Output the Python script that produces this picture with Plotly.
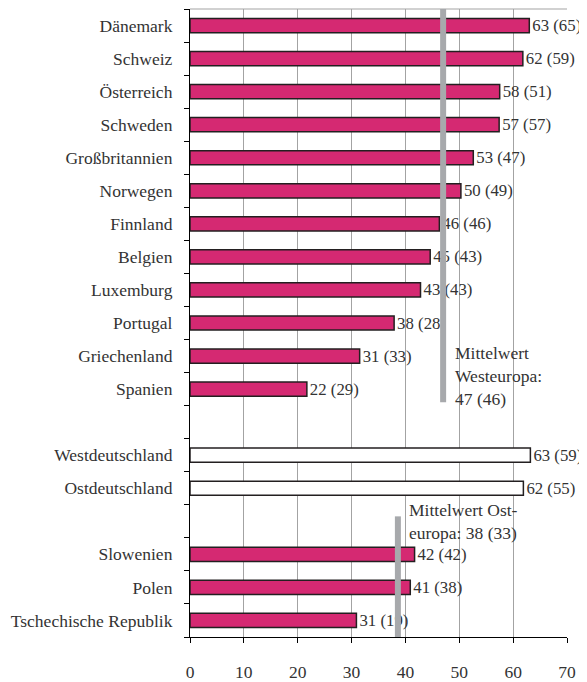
import plotly.graph_objects as go

# ---- data ----
categories = ["Dänemark", "Schweiz", "Österreich", "Schweden", "Großbritannien",
              "Norwegen", "Finnland", "Belgien", "Luxemburg", "Portugal",
              "Griechenland", "Spanien", "", "Westdeutschland", "Ostdeutschland",
              "", "Slowenien", "Polen", "Tschechische Republik"]
bar_values = [63.0, 61.8, 57.5, 57.4, 52.6, 50.3, 46.3, 44.6, 42.8, 37.9,
              31.5, 21.7, None, 63.2, 61.9, None, 41.7, 40.9, 30.9]
label_now = [63, 62, 58, 57, 53, 50, 46, 45, 43, 38, 31, 22, None, 63, 62, None, 42, 41, 31]
label_prev = [65, 59, 51, 57, 47, 49, 46, 43, 43, 28, 33, 29, None, 59, 55, None, 42, 38, 19]
group = ["west"] * 12 + [None, "de", "de", None] + ["east"] * 3
x_ticks = [0, 10, 20, 30, 40, 50, 60, 70]

west_mean_pos = 47
west_mean_text = "Mittelwert<br>Westeuropa:<br>47 (46)"
east_mean_pos = 38.6
east_mean_text = "Mittelwert Ost-<br>europa: 38 (33)"

# ---- styling ----
MAGENTA = "rgb(213,41,114)"
OUTLINE = "#231F20"
GRID = "#A3A3A3"
MEANLINE = "#A7A9AC"
FONT = "Liberation Serif, Times New Roman, DejaVu Serif, serif"
TXT = "#333333"
FS = 17.5
FS_VAL = 16.8

ypos = list(range(len(categories)))
colors = ["white" if g == "de" else MAGENTA for g in group]
texts = ["" if v is None else f"{v} ({p})" for v, p in zip(label_now, label_prev)]

fig = go.Figure()
fig.add_trace(go.Bar(
    x=bar_values, y=ypos, orientation="h", width=0.43,
    marker=dict(color=colors, line=dict(color=OUTLINE, width=1.5)),
    text=texts, textposition="outside", cliponaxis=False, constraintext="none",
    textfont=dict(family=FONT, size=FS_VAL, color=TXT),
    hoverinfo="skip", showlegend=False,
))

label_idx = [i for i, c in enumerate(categories) if c]
fig.update_yaxes(
    range=[len(categories) - 0.5, -0.5], automargin=False,
    tickmode="array", tickvals=label_idx, ticktext=[categories[i] for i in label_idx],
    ticks="outside", ticklen=13, tickcolor="rgba(0,0,0,0)",
    tickfont=dict(family=FONT, size=FS, color=TXT),
    showline=True, linecolor="black", linewidth=1.2,
    showgrid=False, zeroline=False,
    minor=dict(tick0=-0.5, dtick=1, ticks="outside", ticklen=5,
               tickcolor="black", tickwidth=1.2, showgrid=False),
)
fig.update_xaxes(
    range=[x_ticks[0], x_ticks[-1]], tickmode="array", tickvals=x_ticks, automargin=False,
    ticks="outside", ticklen=5, tickcolor="black", tickwidth=1.2,
    ticklabelstandoff=14,
    tickfont=dict(family=FONT, size=FS, color=TXT),
    showline=True, linecolor="black", linewidth=1.2,
    showgrid=True, gridcolor=GRID, gridwidth=1, zeroline=False,
)

# top border
fig.add_shape(type="line", xref="x", yref="paper", x0=x_ticks[0], x1=x_ticks[-1],
              y0=1, y1=1, line=dict(color=GRID, width=1), layer="below")
# mean lines
fig.add_shape(type="line", xref="x", yref="y", x0=west_mean_pos, x1=west_mean_pos,
              y0=-0.5, y1=11.4, line=dict(color=MEANLINE, width=6))
fig.add_shape(type="line", xref="x", yref="y", x0=east_mean_pos, x1=east_mean_pos,
              y0=14.85, y1=18.5, line=dict(color=MEANLINE, width=6))

fig.add_annotation(x=west_mean_pos, y=9.55, xref="x", yref="y", text=west_mean_text,
                   showarrow=False, xanchor="left", yanchor="top", align="left",
                   xshift=10, font=dict(family=FONT, size=FS, color=TXT))
fig.add_annotation(x=east_mean_pos, y=14.3, xref="x", yref="y", text=east_mean_text,
                   showarrow=False, xanchor="left", yanchor="top", align="left",
                   xshift=9, font=dict(family=FONT, size=FS, color=TXT))

# page body has an 8px default margin: figure is 8px smaller, margins shifted
fig.update_layout(
    width=579, height=674,
    margin=dict(l=182, r=20, t=1, b=45),
    paper_bgcolor="white", plot_bgcolor="white",
    font=dict(family=FONT, size=FS, color=TXT),
    bargap=0.57,
)

fig.write_html("out.html")
